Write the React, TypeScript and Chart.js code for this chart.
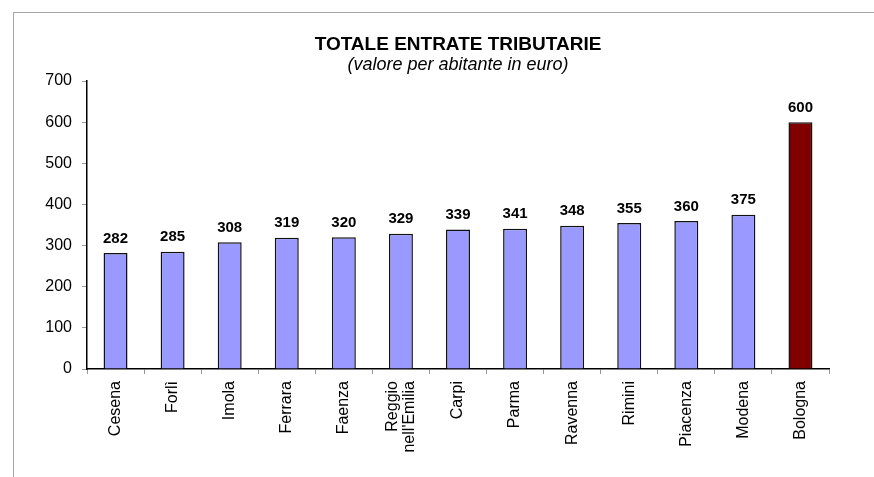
import React, { useEffect, useRef } from "react";
import { Chart, registerables } from "chart.js";

Chart.register(...registerables);

const categories: (string | string[])[] = [
  "Cesena", "Forlì", "Imola", "Ferrara", "Faenza", ["Reggio", "nell'Emilia"],
  "Carpi", "Parma", "Ravenna", "Rimini", "Piacenza", "Modena", "Bologna",
];
const values = [282, 285, 308, 319, 320, 329, 339, 341, 348, 355, 360, 375, 600];
const barColors = [
  "#9999FF", "#9999FF", "#9999FF", "#9999FF", "#9999FF", "#9999FF", "#9999FF",
  "#9999FF", "#9999FF", "#9999FF", "#9999FF", "#9999FF", "#800000",
];
const titleText = "TOTALE ENTRATE TRIBUTARIE";
const subtitleText = "(valore per abitante in euro)";

const FONT = "'Liberation Sans', Arial, sans-serif";

const valueLabels = {
  id: "valueLabels",
  afterDatasetsDraw(chart: any) {
    const ctx = chart.ctx;
    const meta = chart.getDatasetMeta(0);
    ctx.save();
    ctx.font = `bold 15px ${FONT}`;
    ctx.fillStyle = "#000";
    ctx.textAlign = "center";
    ctx.textBaseline = "bottom";
    meta.data.forEach((bar: any, i: number) => {
      ctx.fillText(String(values[i]), bar.x, bar.y - 7);
    });
    ctx.restore();
  },
};

const categoryLabels = {
  id: "categoryLabels",
  afterDraw(chart: any) {
    const ctx = chart.ctx;
    const xScale = chart.scales.x;
    const top = chart.chartArea.bottom + 12;
    const lineH = 17;
    ctx.save();
    ctx.font = `16px ${FONT}`;
    ctx.fillStyle = "#000";
    ctx.textAlign = "right";
    ctx.textBaseline = "middle";
    categories.forEach((label, i) => {
      const lines = Array.isArray(label) ? label : [label];
      const cx = xScale.getPixelForValue(i);
      lines.forEach((line, j) => {
        const x = cx + (j - (lines.length - 1) / 2) * lineH;
        ctx.save();
        ctx.translate(x, top);
        ctx.rotate(-Math.PI / 2);
        ctx.fillText(line, 0, 0);
        ctx.restore();
      });
    });
    ctx.restore();
  },
};

const centeredTitle = {
  id: "centeredTitle",
  afterDraw(chart: any) {
    const ctx = chart.ctx;
    const { left, right } = chart.chartArea;
    const cx = (left + right) / 2;
    ctx.save();
    ctx.fillStyle = "#000";
    ctx.textAlign = "center";
    ctx.textBaseline = "middle";
    ctx.font = `bold 19px ${FONT}`;
    ctx.fillText(titleText, cx, 45);
    ctx.font = `italic 18px ${FONT}`;
    ctx.fillText(subtitleText, cx, 65);
    ctx.restore();
  },
};

export default function App() {
  const ref = useRef<HTMLCanvasElement>(null);
  useEffect(() => {
    if (!ref.current) return;
    const chart = new Chart(ref.current, {
      type: "bar",
      data: {
        labels: categories,
        datasets: [
          {
            data: values,
            backgroundColor: barColors,
            borderColor: "#111",
            borderWidth: 1.5,
            barPercentage: 0.42,
            categoryPercentage: 1,
          },
        ],
      },
      options: {
        animation: false,
        responsive: false,
        maintainAspectRatio: false,
        layout: { padding: { left: 0, right: 45, top: 81, bottom: 0 } },
        plugins: {
          legend: { display: false },
          tooltip: { enabled: false },
          title: { display: false },
        },
        scales: {
          x: {
            offset: true,
            grid: {
              display: true,
              offset: true,
              drawOnChartArea: false,
              tickLength: 5,
              color: "#999",
            },
            border: { display: true, color: "#000", width: 1.5 },
            ticks: { display: false },
            afterFit(scale: any) {
              scale.height = 108;
            },
          },
          y: {
            min: 0,
            max: 700,
            ticks: {
              stepSize: 100,
              color: "#000",
              font: { family: FONT, size: 16 },
              padding: 10,
            },
            grid: {
              display: true,
              drawOnChartArea: false,
              tickLength: 5,
              color: "#999",
            },
            border: { display: true, color: "#000", width: 1.5 },
            afterFit(scale: any) {
              scale.width = 87;
            },
          },
        },
      },
      plugins: [valueLabels, categoryLabels, centeredTitle],
    });
    return () => chart.destroy();
  }, []);

  return (
    <div style={{ position: "fixed", left: 0, top: 0, width: 874, height: 477, background: "#fff" }}>
      <div
        style={{
          position: "absolute",
          left: 13,
          top: 12,
          right: -10,
          bottom: -10,
          borderTop: "1px solid #a6a6a6",
          borderLeft: "1px solid #a6a6a6",
        }}
      />
      <canvas ref={ref} width={874} height={477} style={{ position: "absolute", left: 0, top: 0 }} />
    </div>
  );
}
